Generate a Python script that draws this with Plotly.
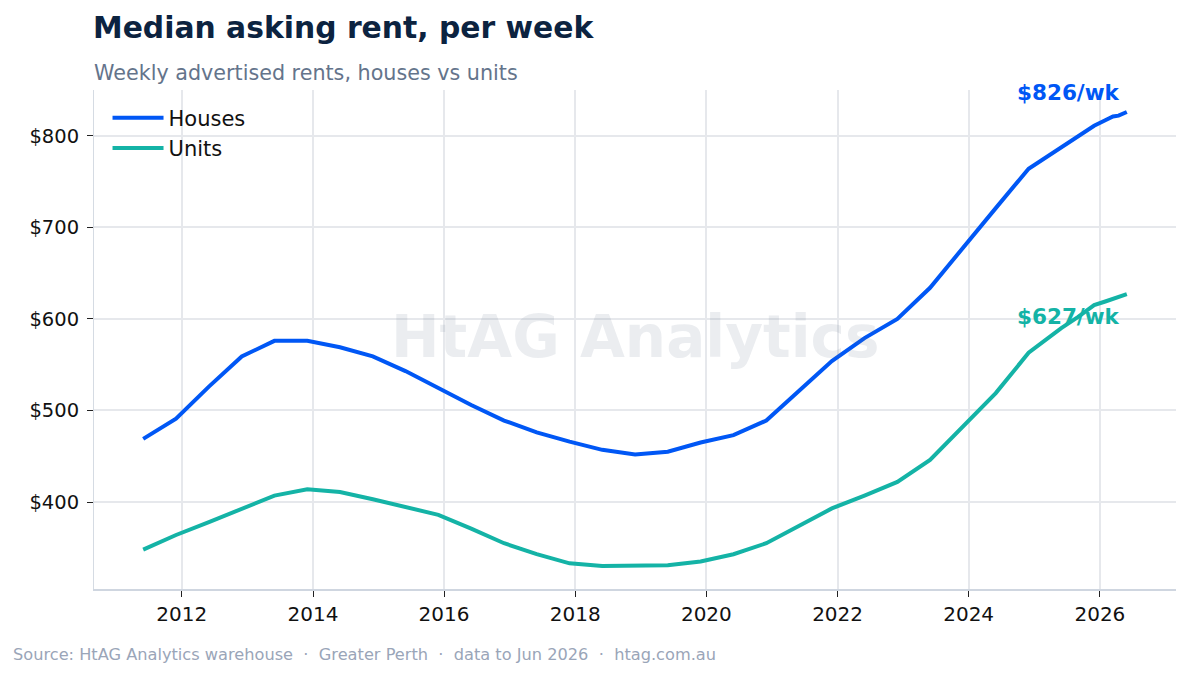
import plotly.graph_objects as go

dates = [
    "2011-05-31", "2011-11-30", "2012-05-31", "2012-11-30", "2013-05-31", "2013-11-30",
    "2014-05-31", "2014-11-30", "2015-05-31", "2015-11-30", "2016-05-31", "2016-11-30",
    "2017-05-31", "2017-11-30", "2018-05-31", "2018-11-30", "2019-05-31", "2019-11-30",
    "2020-05-31", "2020-11-30", "2021-05-31", "2021-11-30", "2022-05-31", "2022-11-30",
    "2023-05-31", "2023-11-30", "2024-05-31", "2024-11-30", "2025-05-31", "2025-08-31",
    "2025-11-30", "2026-01-31", "2026-03-15", "2026-04-15", "2026-05-31",
]
houses = [
    469, 491, 526, 559, 576, 576, 569, 559, 543, 524, 506, 489,
    476, 466, 457, 452, 455, 465, 473, 489, 521, 554, 579, 600,
    634, 678, 721, 764, 787, 799, 811, 817, 821, 822, 826,
]
units = [
    348, 364, 378, 393, 407, 414, 411, 403, 395, 386, 371, 355,
    343, 333, 330, 331, 331, 335, 343, 355, 374, 393, 407, 422,
    446, 482, 519, 563, 590, 602, 615, 619, 622, 624, 627,
]
y_ticks = [400, 500, 600, 700, 800]
x_ticks = ["2012", "2014", "2016", "2018", "2020", "2022", "2024", "2026"]

HOUSE_C = "#0057f5"
UNIT_C = "#14b3a6"
FONT = "DejaVu Sans"

fig = go.Figure()
fig.add_trace(go.Scatter(x=dates, y=houses, mode="lines", name="Houses",
                         line=dict(color=HOUSE_C, width=4)))
fig.add_trace(go.Scatter(x=dates, y=units, mode="lines", name="Units",
                         line=dict(color=UNIT_C, width=4)))

fig.update_layout(
    width=1189, height=676,
    margin=dict(l=94, r=13, t=90, b=87),
    plot_bgcolor="white", paper_bgcolor="white",
    font=dict(family=FONT, size=19, color="#111111"),
    showlegend=True,
    legend=dict(x=0.0125, y=0.985, xanchor="left", yanchor="top",
                bgcolor="rgba(255,255,255,0)", font=dict(size=21),
                tracegroupgap=2, itemwidth=51),
    xaxis=dict(
        type="date",
        range=["2010-08-30", "2027-03-01"],
        tickvals=[f"{t}-01-01" for t in x_ticks],
        ticktext=x_ticks,
        showgrid=True, gridcolor="#e6e8ec", gridwidth=1.5,
        showline=True, linecolor="#cfd6e0", linewidth=2,
        ticks="outside", ticklen=6, tickcolor="#222222", tickwidth=1,
        tickfont=dict(size=20, color="#111111"),
        zeroline=False,
    ),
    yaxis=dict(
        range=[305, 850],
        tickvals=y_ticks,
        ticktext=[f"${v}" for v in y_ticks],
        showgrid=True, gridcolor="#e6e8ec", gridwidth=1.5,
        showline=True, linecolor="#d5dbe3", linewidth=1,
        ticks="outside", ticklen=6, tickcolor="#222222", tickwidth=1,
        ticklabelstandoff=4,
        tickfont=dict(size=19.5, color="#111111"),
        zeroline=False,
    ),
)

annotations = [
    dict(text="<b>Median asking rent, per week</b>", xref="paper", yref="paper",
         x=-0.003, y=1.126, xanchor="left", yanchor="middle", showarrow=False,
         font=dict(family=FONT, size=29.8, color="#0c2340")),
    dict(text="Weekly advertised rents, houses vs units", xref="paper", yref="paper",
         x=-0.002, y=1.034, xanchor="left", yanchor="middle", showarrow=False,
         font=dict(family=FONT, size=20.7, color="#64748b")),
    dict(text="Source: HtAG Analytics warehouse  ·  Greater Perth  ·  data to Jun 2026  ·  htag.com.au",
         xref="paper", yref="paper", x=-0.0768, y=-0.132, xanchor="left", yanchor="middle",
         showarrow=False, font=dict(family=FONT, size=16.2, color="#9aa5b8")),
    dict(text="<b>HtAG Analytics</b>", xref="paper", yref="paper", x=0.5, y=0.505,
         xanchor="center", yanchor="middle", showarrow=False,
         font=dict(family=FONT, size=58, color="rgba(100,116,139,0.13)")),
    dict(text=f"<b>${houses[-1]}/wk</b>", x=dates[-1], y=houses[-1], xref="x", yref="y",
         xanchor="right", yanchor="middle", xshift=-5, yshift=19, showarrow=False,
         font=dict(family=FONT, size=21.5, color=HOUSE_C)),
    dict(text=f"<b>${units[-1]}/wk</b>", x=dates[-1], y=units[-1], xref="x", yref="y",
         xanchor="right", yanchor="middle", xshift=-5, yshift=-22, showarrow=False,
         font=dict(family=FONT, size=21.5, color=UNIT_C)),
]
fig.update_layout(annotations=annotations)

fig.write_html("out.html")
